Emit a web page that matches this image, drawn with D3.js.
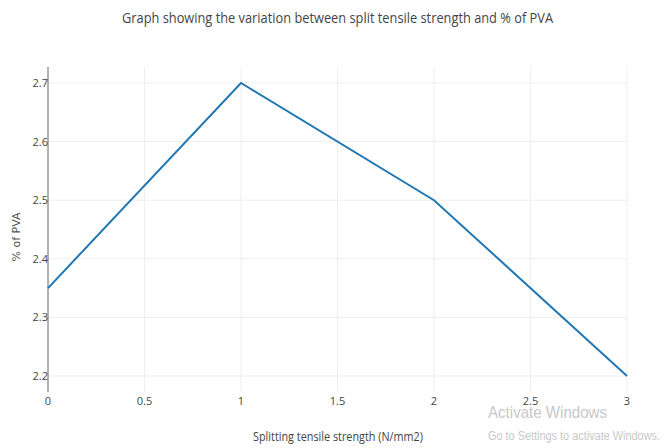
<!DOCTYPE html>
<html>
<head>
<meta charset="utf-8">
<script src="https://cdn.jsdelivr.net/npm/d3@7"></script>
<style>
  body { margin: 0; background: #fff; }
  text { font-family: "Open Sans", sans-serif; fill: #444; }
</style>
</head>
<body>
<div id="chart"></div>
<script>
const strength = [0, 1, 2, 3];
const pva = [2.35, 2.7, 2.5, 2.2];
const xTicks = [0, 0.5, 1, 1.5, 2, 2.5, 3];
const yTicks = [2.2, 2.3, 2.4, 2.5, 2.6, 2.7];

const width = 665;
const height = 448;
const margin = { top: 67, right: 38, bottom: 56, left: 48 };

const svg = d3.select('#chart')
  .append('svg')
  .attr('width', width)
  .attr('height', height);

const x = d3.scaleLinear()
  .domain([0, 3])
  .range([margin.left, 627]);

const y = d3.scaleLinear()
  .domain([2.1727, 2.7273])
  .range([height - margin.bottom, margin.top]);

// grid
svg.append('g')
  .selectAll('line')
  .data(xTicks.slice(1))
  .enter().append('line')
  .attr('x1', (d) => x(d)).attr('x2', (d) => x(d))
  .attr('y1', y.range()[1]).attr('y2', y.range()[0])
  .attr('stroke', '#eee');

svg.append('g')
  .selectAll('line')
  .data(yTicks)
  .enter().append('line')
  .attr('x1', x(0)).attr('x2', x(3))
  .attr('y1', (d) => y(d)).attr('y2', (d) => y(d))
  .attr('stroke', '#eee');

// y axis line
svg.append('line')
  .attr('x1', x(0)).attr('x2', x(0))
  .attr('y1', y.range()[1]).attr('y2', y.range()[0])
  .attr('stroke', '#999')
  .attr('stroke-width', 1.5);

// tick labels
svg.append('g')
  .selectAll('text')
  .data(xTicks)
  .enter().append('text')
  .attr('x', (d) => x(d))
  .attr('y', 405)
  .attr('text-anchor', 'middle')
  .style('font-size', '11px')
  .text((d) => d);

svg.append('g')
  .selectAll('text')
  .data(yTicks)
  .enter().append('text')
  .attr('x', x(0))
  .attr('y', (d) => y(d) + 4)
  .attr('text-anchor', 'end')
  .style('font-size', '11px')
  .text((d) => d.toFixed(1));

// series
const line = d3.line()
  .x((d, i) => x(strength[i]))
  .y((d) => y(d));

svg.append('path')
  .datum(pva)
  .attr('d', line)
  .attr('fill', 'none')
  .attr('stroke', '#1f77b4')
  .attr('stroke-width', 2);

// titles
svg.append('text')
  .attr('x', 122)
  .attr('y', 23)
  .attr('textLength', 431)
  .attr('lengthAdjust', 'spacingAndGlyphs')
  .style('font-size', '14px')
  .text('Graph showing the variation between split tensile strength and % of PVA');

svg.append('text')
  .attr('x', 253)
  .attr('y', 441)
  .attr('textLength', 170)
  .attr('lengthAdjust', 'spacingAndGlyphs')
  .style('font-size', '12px')
  .text('Splitting tensile strength  (N/mm2)');

svg.append('text')
  .attr('transform', 'translate(20, 237) rotate(-90)')
  .attr('text-anchor', 'middle')
  .style('font-family', 'DejaVu Sans, sans-serif')
  .style('font-size', '11px')
  .style('fill', '#555')
  .text('% of PVA');

// watermark
svg.append('text')
  .attr('x', 488)
  .attr('y', 418)
  .attr('textLength', 119)
  .attr('lengthAdjust', 'spacingAndGlyphs')
  .style('font-family', '"Liberation Sans", sans-serif')
  .style('font-size', '17px')
  .style('fill', '#c8c8c8')
  .text('Activate Windows');

svg.append('text')
  .attr('x', 488)
  .attr('y', 440)
  .attr('textLength', 172)
  .attr('lengthAdjust', 'spacingAndGlyphs')
  .style('font-family', '"Liberation Sans", sans-serif')
  .style('font-size', '12px')
  .style('fill', '#c8c8c8')
  .text('Go to Settings to activate Windows.');
</script>
</body>
</html>
